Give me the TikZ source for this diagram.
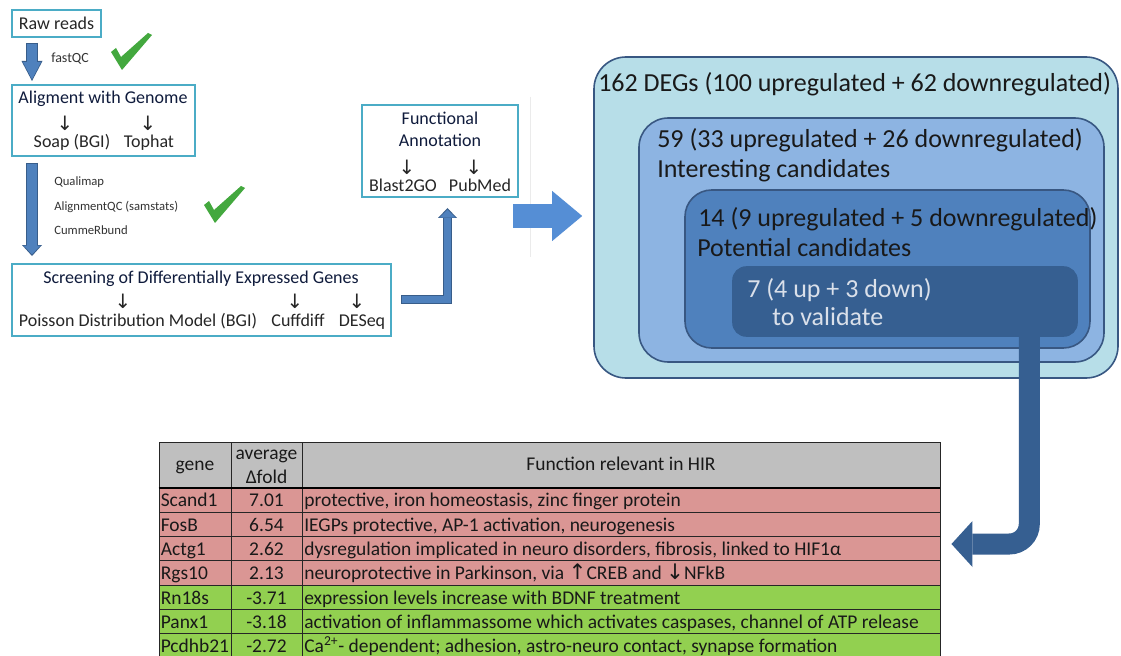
\documentclass[tikz,border=0pt]{standalone}
\usepackage{fontspec}
\setmainfont{Carlito}
\newfontfamily\arrowfont{DejaVu Sans}[Scale=1.1]
\usetikzlibrary{arrows.meta,positioning,calc}

\definecolor{boxcyan}{RGB}{75,172,198}
\definecolor{navytext}{RGB}{15,27,60}
\definecolor{arrowblue}{RGB}{79,129,189}
\definecolor{arrowedge}{RGB}{56,93,138}
\definecolor{tickgreen}{RGB}{67,168,62}
\definecolor{degA}{RGB}{183,222,232}
\definecolor{degB}{RGB}{141,180,226}
\definecolor{degC}{RGB}{79,129,189}
\definecolor{degD}{RGB}{54,95,145}
\definecolor{degedge}{RGB}{56,87,130}
\definecolor{bigblue}{RGB}{85,142,213}
\definecolor{headgray}{RGB}{191,191,191}
\definecolor{uprow}{RGB}{218,150,148}
\definecolor{downrow}{RGB}{146,208,80}
\definecolor{lighttext}{RGB}{218,224,234}

\newcommand{\downarr}{{\arrowfont\symbol{"2193}}}
\newcommand{\uparr}{{\arrowfont\symbol{"2191}}}

\begin{document}
\begin{tikzpicture}[x=0.75pt,y=-0.75pt,
  stepbox/.style={draw=boxcyan,line width=1.5pt,fill=white,inner sep=0pt,font=\fontsize{13.5}{16}\selectfont,text=black!85},
  boxtxt/.style={inner sep=0pt,anchor=base,font=\fontsize{13.5}{16}\selectfont,text=black!85},
  boxtitle/.style={boxtxt,text=navytext},
  arrowmark/.style={boxtxt,anchor=center},
  tooltxt/.style={inner sep=0pt,anchor=base west,font=\fontsize{9.5}{11}\selectfont,text=black!80},
  degbox/.style={draw=degedge,line width=1.2pt,inner sep=0pt},
  degtxt/.style={inner sep=0pt,anchor=base west,font=\fontsize{19.5}{23}\selectfont,text=black!90},
  cell/.style={draw=black!85,line width=0.7pt,inner sep=0pt,minimum height=18.225pt},
  tabtxt/.style={inner sep=0pt,anchor=base west,font=\fontsize{14.6}{17}\selectfont,text=black!90},
  edgepass/.style={draw=arrowedge,line width=9pt},
  fillpass/.style={draw=arrowblue,line width=7.5pt,shorten >=1.2pt,shorten <=0.75pt},
  tick/.pic={\fill[tickgreen] (0,19) -- (5,15) -- (10,24) -- (37,0) -- (41,2) -- (11,37) -- cycle;}
]
\path[use as bounding box,fill=white] (0,0) rectangle (1121,656);

% pipeline boxes on the left
\node[stepbox,minimum width=66.75pt,minimum height=20.25pt] (raw) at (56.5,23.5) {Raw reads};
\node[stepbox,minimum width=137.25pt,minimum height=53.25pt] (align) at (103.5,120.5) {};
\node[boxtitle] (alignt) at (103,104) {Aligment with Genome};
\node[arrowmark] (aa1) at (65,123) {\downarr};
\node[arrowmark] (aa2) at (148,123) {\downarr};
\node[boxtxt] (soap) at (72,148) {Soap (BGI)};
\node[boxtxt] (tophat) at (149,148) {Tophat};

\node[stepbox,minimum width=284.25pt,minimum height=54pt] (screen) at (201.5,300) {};
\node[boxtitle] (screent) at (201,283) {Screening of Differentially Expressed Genes};
\node[arrowmark] (sa1) at (123,301) {\downarr};
\node[arrowmark] (sa2) at (295,301) {\downarr};
\node[arrowmark] (sa3) at (357,301) {\downarr};
\node[boxtxt] (poisson) at (138,326) {Poisson Distribution Model (BGI)};
\node[boxtxt] (cuffdiff) at (298,326) {Cuffdiff};
\node[boxtxt] (deseq) at (362,326) {DESeq};

\node[stepbox,minimum width=117pt,minimum height=69pt] (func) at (440,151) {};
\node[boxtitle] (funct1) at (440,125) {Functional};
\node[boxtitle] (funct2) at (440,147) {Annotation};
\node[arrowmark] (fa1) at (407,167) {\downarr};
\node[arrowmark] (fa2) at (474,167) {\downarr};
\node[boxtxt] (blast) at (403,191) {Blast2GO};
\node[boxtxt] (pubmed) at (480,191) {PubMed};

% QC tools
\node[tooltxt,font=\fontsize{10.5}{12}\selectfont] (fastqc) at (51,63) {fastQC};
\node[tooltxt] (qualimap) at (54,186) {Qualimap};
\node[tooltxt] (alignqc) at (54,210) {AlignmentQC (samstats)};
\node[tooltxt] (cumme) at (54,234) {CummeRbund};
\pic at (111,33) {tick};
\pic at (204,186) {tick};

% block arrows
\draw[edgepass,-{Triangle[length=15pt,width=15.75pt,line width=0pt]}] ($(raw.south west)+(21,5)$) -- ($(align.north west)+(21,-3)$);
\draw[fillpass,-{Triangle[length=13pt,width=13.5pt,line width=0pt]}] ($(raw.south west)+(21,5)$) -- ($(align.north west)+(21,-3)$);
\draw[edgepass,-{Triangle[length=8.25pt,width=15pt,line width=0pt]}] ($(align.south west)+(21,6)$) -- ($(screen.north west)+(21,-7)$);
\draw[fillpass,-{Triangle[length=6.6pt,width=12.75pt,line width=0pt]}] ($(align.south west)+(21,6)$) -- ($(screen.north west)+(21,-7)$);
\draw[edgepass,line width=6.75pt,-{Triangle[length=7.5pt,width=14.25pt,line width=0pt]}] ($(screen.east)+(9,-1)$) -| ($(func.south)+(7.5,10)$);
\draw[fillpass,line width=5.25pt,-{Triangle[length=6pt,width=12pt,line width=0pt]}] ($(screen.east)+(9,-1)$) -| ($(func.south)+(7.5,10)$);
\draw[black!8,line width=0.75pt] (530,97) -- (530,257);

% nested DEG sets
\node[degbox,fill=degA,rounded corners=24pt,minimum width=393pt,minimum height=240.75pt] (deg) at (856,217.5) {};
\node[degbox,fill=degB,rounded corners=22pt,minimum width=348.75pt,minimum height=183pt] (interesting) at (871.5,240) {};
\node[degbox,fill=degC,rounded corners=20pt,minimum width=303.75pt,minimum height=118.5pt] (potential) at (887.5,269) {};
\node[degbox,draw=degD,fill=degD,rounded corners=10pt,minimum width=258pt,minimum height=51.75pt] (validate) at (905,301.5) {};
\node[degtxt] (t162) at (598,92) {162 DEGs (100 upregulated + 62 downregulated)};
\node[degtxt] (t59) at (657,148) {59 (33 upregulated + 26 downregulated)};
\node[degtxt] (tint) at (657,178) {Interesting candidates};
\node[degtxt] (t14) at (698,227) {14 (9 upregulated + 5 downregulated)};
\node[degtxt] (tpot) at (697,257) {Potential candidates};
\node[degtxt,text=lighttext] (t7) at (747,297) {7 (4 up + 3 down)};
\node[degtxt,text=lighttext] (tval) at (772,325) {to validate};

\coordinate (bigstart) at (513,216);
\draw[bigblue,line width=18pt,shorten >=8.25pt,-{Triangle[length=22.5pt,width=37.5pt,line width=0pt]}] (bigstart) -- (bigstart -| deg.west);

% table of candidates
\node[cell,fill=headgray,minimum width=54pt,minimum height=34.5pt] (hgene) at (195,465) {};
\node[cell,fill=headgray,minimum width=53.25pt,minimum height=34.5pt] (hfold) at (266.5,465) {};
\node[cell,fill=headgray,minimum width=478.5pt,minimum height=34.5pt] (hfunc) at (621,465) {};
\node[tabtxt,anchor=base] (hgenet) at (195,470) {gene};
\node[tabtxt,anchor=base] (havg) at (266.5,459) {average};
\node[tabtxt,anchor=base] (hdelta) at (266.5,483) {Δfold};
\node[tabtxt,anchor=base] (hfunct) at (621,470) {Function relevant in HIR};
\foreach \gname/\fold/\func/\shade [count=\i] in {
  Scand1/7.01/{protective, iron homeostasis, zinc finger protein}/uprow,
  FosB/6.54/{IEGPs protective, AP-1 activation, neurogenesis}/uprow,
  Actg1/2.62/{dysregulation implicated in neuro disorders, fibrosis, linked to HIF1α}/uprow,
  Rgs10/2.13/{neuroprotective in Parkinson, via \uparr CREB and \downarr NFkB}/uprow,
  Rn18s/-3.71/{expression levels increase with BDNF treatment}/downrow,
  Panx1/-3.18/{activation of inflammassome which activates caspases, channel of ATP release}/downrow,
  Pcdhb21/-2.72/{Ca\textsuperscript{2+}- dependent; adhesion, astro-neuro contact, synapse formation}/downrow}
{
  \pgfmathsetmacro{\ry}{500.15+(\i-1)*24.3}
  \node[cell,fill=\shade,minimum width=54pt] (g\i) at (195,\ry) {};
  \node[cell,fill=\shade,minimum width=53.25pt] (v\i) at (266.5,\ry) {};
  \node[cell,fill=\shade,minimum width=478.5pt] (f\i) at (621,\ry) {};
  \node[tabtxt] (gt\i) at ($(g\i.west)+(2,6.8)$) {\gname};
  \node[tabtxt,anchor=base] (vt\i) at ($(v\i.center)+(0,6.8)$) {\fold};
  \node[tabtxt] (ft\i) at ($(f\i.west)+(2.5,6.8)$) {\func};
}
\draw[black,line width=1.5pt] (hgene.south west) -- (hfunc.south east);

% towards the table
\draw[degD,line width=15.75pt,rounded corners=15pt,-{Triangle[length=15.75pt,width=34.5pt,line width=0pt]}] ($(validate.south east)+(-48.5,0)$) |- ($(f3.east)+(11,-4.75)$);
\end{tikzpicture}
\end{document}
